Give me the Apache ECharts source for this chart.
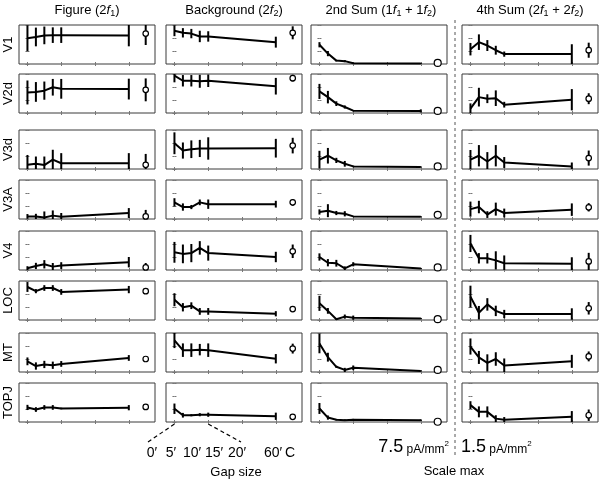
<!DOCTYPE html>
<html><head><meta charset="utf-8">
<script src="https://cdn.jsdelivr.net/npm/echarts@6/dist/echarts.min.js"></script>
<style>html,body{margin:0;padding:0;background:#fff}#c{width:600px;height:480px}</style>
</head><body><div id="c"></div>
<script>
// ---------------- data ----------------
const regions = ['V1', 'V2d', 'V3d', 'V3A', 'V4', 'LOC', 'MT', 'TOPJ'];
const gapMinutes = [0, 5, 10, 15, 20, 60];
const controlX = 70;
const gapTickLabels = ['0\u2032', '5\u2032', '10\u2032', '15\u2032', '20\u2032', '60\u2032', 'C'];
const scaleMax = [7.5, 7.5, 7.5, 1.5];
const scaleLabels = ['7.5', '1.5'];

// each row: values at 0',5',10',15',20',60', then C (control)
const figureMean = [
  [4.95, 5.2, 5.5, 5.55, 5.55, 5.5, 5.85],
  [3.95, 4.05, 4.3, 4.95, 4.65, 4.6, 4.45],
  [0.8, 1.0, 0.75, 1.8, 1.1, 1.1, 0.8],
  [0.5, 0.5, 0.3, 0.65, 0.45, 1.15, 0.5],
  [0.33, 0.78, 1.1, 0.65, 0.85, 1.5, 0.5],
  [6.35, 5.55, 6.15, 6.15, 5.4, 5.85, 5.55],
  [2.05, 1.15, 1.45, 1.3, 1.55, 2.7, 2.5],
  [2.8, 2.4, 2.8, 2.8, 2.6, 2.75, 2.9]
];
const figureErr = [
  [2.5, 1.8, 1.7, 1.5, 1.5, 2.1, 2.2],
  [2.3, 1.9, 1.75, 1.6, 1.9, 2.0, 2.2],
  [1.9, 1.4, 1.65, 1.9, 1.95, 1.95, 2.1],
  [0.45, 0.5, 1.15, 1.0, 0.7, 0.95, 1.25],
  [0.4, 0.6, 0.8, 0.7, 0.65, 1.0, 0.85],
  [0.95, 0.4, 0.55, 0.55, 0.55, 0.7, 0.25],
  [0.75, 0.7, 0.7, 0.7, 0.55, 0.55, 0.2],
  [0.5, 0.45, 0.45, 0.45, 0.15, 0.5, 0.1]
];
const backgroundMean = [
  [6.4, 6.0, 5.85, 5.3, 5.3, 4.2, 6.0],
  [7.2, 6.2, 6.2, 6.1, 6.2, 5.15, 6.7],
  [4.95, 3.55, 3.8, 3.95, 3.95, 4.0, 4.5],
  [3.2, 2.3, 2.3, 3.2, 2.85, 2.85, 3.2],
  [3.4, 3.1, 3.25, 4.25, 3.25, 2.5, 3.6],
  [3.9, 2.45, 2.75, 1.65, 1.65, 1.2, 2.1],
  [6.1, 4.2, 4.2, 4.3, 4.2, 2.55, 4.5],
  [2.55, 1.3, 1.3, 1.4, 1.4, 1.1, 1.0]
];
const backgroundErr = [
  [1.05, 0.9, 0.9, 1.1, 1.0, 1.05, 1.25],
  [1.3, 1.1, 1.1, 1.25, 1.2, 1.6, 0.65],
  [2.1, 1.55, 1.7, 1.65, 2.15, 1.8, 1.5],
  [0.8, 0.7, 0.4, 0.55, 0.9, 0.65, 0.65],
  [2.0, 1.8, 1.75, 1.3, 1.45, 1.0, 1.3],
  [1.25, 0.8, 0.65, 0.65, 0.65, 0.5, 0.4],
  [1.5, 1.3, 1.3, 1.1, 1.3, 0.9, 0.95],
  [1.0, 0.45, 0.2, 0.3, 0.4, 0.7, 0.1]
];
const sum2Mean = [
  [3.7, 2.0, 0.65, 0.55, 0.15, 0.1, 0.2],
  [4.15, 3.05, 1.8, 1.15, 0.45, 0.4, 0.4],
  [1.8, 2.55, 1.65, 1.0, 0.5, 0.4, 0.5],
  [1.35, 1.6, 1.15, 1.0, 0.5, 0.45, 0.8],
  [2.5, 1.4, 1.3, 0.3, 1.1, 0.3, 0.5],
  [3.2, 1.75, 0.15, 0.65, 0.45, 0.3, 0.15],
  [5.5, 2.85, 1.0, 0.4, 0.8, 0.2, 0.4],
  [2.6, 0.85, 0.45, 0.35, 0.45, 0.35, 0.05]
];
const sum2Err = [
  [0.5, 0.5, 0.15, 0.2, 0.1, 0.1, 0],
  [1.45, 1.2, 0.45, 0.3, 0.1, 0.3, 0],
  [1.7, 1.5, 0.5, 0.55, 0.15, 0.1, 0],
  [0.5, 1.25, 0.4, 0.5, 0.1, 0.1, 0],
  [0.7, 0.7, 0.65, 0.4, 0.4, 0.1, 0],
  [1.45, 0.55, 0.1, 0.4, 0.4, 0.1, 0],
  [1.9, 0.85, 0.2, 0.4, 0.45, 0.1, 0],
  [1.05, 0.4, 0.15, 0.15, 0.15, 0.15, 0]
];
const sum4Mean = [
  [0.57, 0.84, 0.71, 0.53, 0.38, 0.38, 0.53],
  [0.17, 0.61, 0.55, 0.57, 0.32, 0.51, 0.55],
  [0.36, 0.51, 0.29, 0.51, 0.25, 0.1, 0.42],
  [0.38, 0.46, 0.17, 0.38, 0.23, 0.36, 0.45],
  [1.02, 0.45, 0.45, 0.37, 0.26, 0.24, 0.33],
  [0.9, 0.28, 0.6, 0.35, 0.23, 0.23, 0.45],
  [0.98, 0.56, 0.35, 0.5, 0.25, 0.41, 0.6],
  [0.65, 0.39, 0.39, 0.13, 0.09, 0.2, 0.26]
];
const sum4Err = [
  [0.24, 0.3, 0.21, 0.17, 0.1, 0.38, 0.29],
  [0.2, 0.36, 0.17, 0.3, 0.11, 0.41, 0.21],
  [0.37, 0.41, 0.36, 0.41, 0.21, 0.15, 0.29],
  [0.29, 0.24, 0.13, 0.25, 0.17, 0.24, 0.16],
  [0.33, 0.2, 0.2, 0.35, 0.3, 0.25, 0.33],
  [0.42, 0.26, 0.24, 0.2, 0.16, 0.22, 0.24],
  [0.31, 0.25, 0.33, 0.26, 0.27, 0.25, 0.19],
  [0.15, 0.21, 0.21, 0.13, 0.1, 0.22, 0.22]
];

// ---------------- layout ----------------
const FONT = '"Liberation Sans", Arial, Helvetica, sans-serif';
const colLeft = [19, 166, 311, 462];
const colWidth = 136;
const rowTop = [25, 74, 130, 180, 231, 281, 333, 383];
const rowHeight = 39;
const means = [figureMean, backgroundMean, sum2Mean, sum4Mean];
const errs = [figureErr, backgroundErr, sum2Err, sum4Err];

const grids = [], xAxes = [], yAxes = [], series = [];
const tickStyle = { show: true, inside: true, length: 2, lineStyle: { color: '#777', width: 1 } };

for (let c = 0; c < 4; c++) {
  for (let r = 0; r < 8; r++) {
    const k = c * 8 + r;
    grids.push({ left: colLeft[c], top: rowTop[r], width: colWidth, height: rowHeight,
      show: true, borderColor: '#3a3a3a', borderWidth: 1, backgroundColor: '#fff' });
    ['bottom', 'top'].forEach(pos => xAxes.push({
      type: 'value', gridIndex: k, position: pos, min: -5, max: 75.5,
      axisLine: { show: false }, splitLine: { show: false }, axisLabel: { show: false },
      axisTick: Object.assign({ customValues: [0, 20, 40, 60] }, tickStyle)
    }));
    ['left', 'right'].forEach(pos => yAxes.push({
      type: 'value', gridIndex: k, position: pos, min: 0, max: scaleMax[c], interval: scaleMax[c] / 3,
      axisLine: { show: false }, splitLine: { show: false }, axisLabel: { show: false },
      axisTick: tickStyle
    }));
    const m = means[c][r], e = errs[c][r];
    series.push({
      type: 'line', xAxisIndex: 2 * k, yAxisIndex: 2 * k, silent: true, animation: false,
      symbol: 'none', lineStyle: { color: '#000', width: 2 }, z: 3,
      data: gapMinutes.map((x, i) => [x, m[i]])
    });
    const ebData = gapMinutes.map((x, i) => [x, m[i], e[i]]);
    ebData.push([controlX, m[6], e[6]]);
    series.push({
      type: 'custom', xAxisIndex: 2 * k, yAxisIndex: 2 * k, silent: true, animation: false, z: 4,
      data: ebData,
      renderItem: function (params, api) {
        const x = api.value(0), v = api.value(1), er = api.value(2);
        if (!er) return null;
        const p1 = api.coord([x, v - er]), p2 = api.coord([x, v + er]);
        const cs = params.coordSys;
        const cl = y => Math.max(cs.y, Math.min(cs.y + cs.height, y));
        return { type: 'line', shape: { x1: p1[0], y1: cl(p1[1]), x2: p2[0], y2: cl(p2[1]) },
          style: { stroke: '#000', lineWidth: 2 } };
      }
    });
    series.push({
      type: 'scatter', xAxisIndex: 2 * k, yAxisIndex: 2 * k, silent: true, animation: false, z: 5,
      symbol: 'circle', symbolSize: c === 2 ? 7 : 5.5,
      itemStyle: { color: '#fff', borderColor: '#000', borderWidth: 1.2, opacity: 1 },
      data: [[controlX, m[6]]]
    });
  }
}

const titleRich = {
  a: { fontSize: 13, fontFamily: FONT, color: '#000', lineHeight: 16 },
  i: { fontSize: 13, fontFamily: FONT, fontStyle: 'italic', color: '#000', lineHeight: 16 },
  s: { fontSize: 9, fontFamily: FONT, color: '#000', lineHeight: 9, verticalAlign: 'bottom' }
};
const colTitles = [
  '{a|Figure (2}{i|f}{s|1}{a|)}',
  '{a|Background (2}{i|f}{s|2}{a|)}',
  '{a|2nd Sum (1}{i|f}{s|1}{a| + 1}{i|f}{s|2}{a|)}',
  '{a|4th Sum (2}{i|f}{s|1}{a| + 2}{i|f}{s|2}{a|)}'
];
const titleX = [87, 234, 381, 530];

const graphics = [];
colTitles.forEach((t, i) => graphics.push({
  type: 'text', x: titleX[i], y: 10, silent: true,
  style: { text: t, rich: titleRich, align: 'center', verticalAlign: 'middle' }
}));
regions.forEach((name, r) => graphics.push({
  type: 'text', x: 8, y: rowTop[r] + rowHeight / 2, rotation: Math.PI / 2, silent: true,
  style: { text: name, font: '13px ' + FONT, fill: '#000', align: 'center', verticalAlign: 'middle' }
}));
const gapLabelX = [152, 171, 192, 214, 237, 273, 290];
gapTickLabels.forEach((t, i) => graphics.push({
  type: 'text', x: gapLabelX[i], y: 453, silent: true,
  style: { text: t, font: '14px ' + FONT, fill: '#000', align: 'center', verticalAlign: 'middle' }
}));
graphics.push({ type: 'text', x: 236, y: 472, silent: true,
  style: { text: 'Gap size', font: '13px ' + FONT, fill: '#000', align: 'center', verticalAlign: 'middle' } });
graphics.push({ type: 'text', x: 454, y: 471, silent: true,
  style: { text: 'Scale max', font: '13px ' + FONT, fill: '#000', align: 'center', verticalAlign: 'middle' } });
const scaleRich = {
  b: { fontSize: 18, fontFamily: FONT, color: '#000', lineHeight: 20, verticalAlign: 'bottom' },
  u: { fontSize: 12, fontFamily: FONT, color: '#000', lineHeight: 16, verticalAlign: 'bottom' },
  p: { fontSize: 8, fontFamily: FONT, color: '#000', lineHeight: 8, verticalAlign: 'bottom', padding: [0, 0, 8, 0] }
};
graphics.push({ type: 'text', x: 449, y: 446, silent: true,
  style: { text: '{b|' + scaleLabels[0] + '} {u|pA/mm}{p|2}', rich: scaleRich, align: 'right', verticalAlign: 'middle' } });
graphics.push({ type: 'text', x: 461, y: 446, silent: true,
  style: { text: '{b|' + scaleLabels[1] + '} {u|pA/mm}{p|2}', rich: scaleRich, align: 'left', verticalAlign: 'middle' } });
graphics.push({ type: 'line', silent: true, shape: { x1: 455, y1: 20, x2: 455, y2: 458 },
  style: { stroke: '#555', lineWidth: 1, lineDash: [3, 3] } });

const chart = echarts.init(document.getElementById('c'), null, { renderer: 'canvas' });
chart.setOption({
  animation: false, backgroundColor: '#fff',
  grid: grids, xAxis: xAxes, yAxis: yAxes, series: series, graphic: graphics
});

// dashed guide lines from the Background TOPJ panel's 0' and 20' positions to the expanded labels
const kBG = 1 * 8 + 7;
const p0 = chart.convertToPixel({ xAxisIndex: 2 * kBG, yAxisIndex: 2 * kBG }, [gapMinutes[0], 0]);
const p20 = chart.convertToPixel({ xAxisIndex: 2 * kBG, yAxisIndex: 2 * kBG }, [gapMinutes[4], 0]);
graphics.push({ type: 'line', silent: true, shape: { x1: p0[0], y1: p0[1] + 2, x2: gapLabelX[0] - 4, y2: 442 },
  style: { stroke: '#000', lineWidth: 1.2, lineDash: [4, 3] } });
graphics.push({ type: 'line', silent: true, shape: { x1: p20[0], y1: p20[1] + 2, x2: gapLabelX[4] + 4, y2: 442 },
  style: { stroke: '#000', lineWidth: 1.2, lineDash: [4, 3] } });
chart.setOption({ graphic: graphics });
</script></body></html>
